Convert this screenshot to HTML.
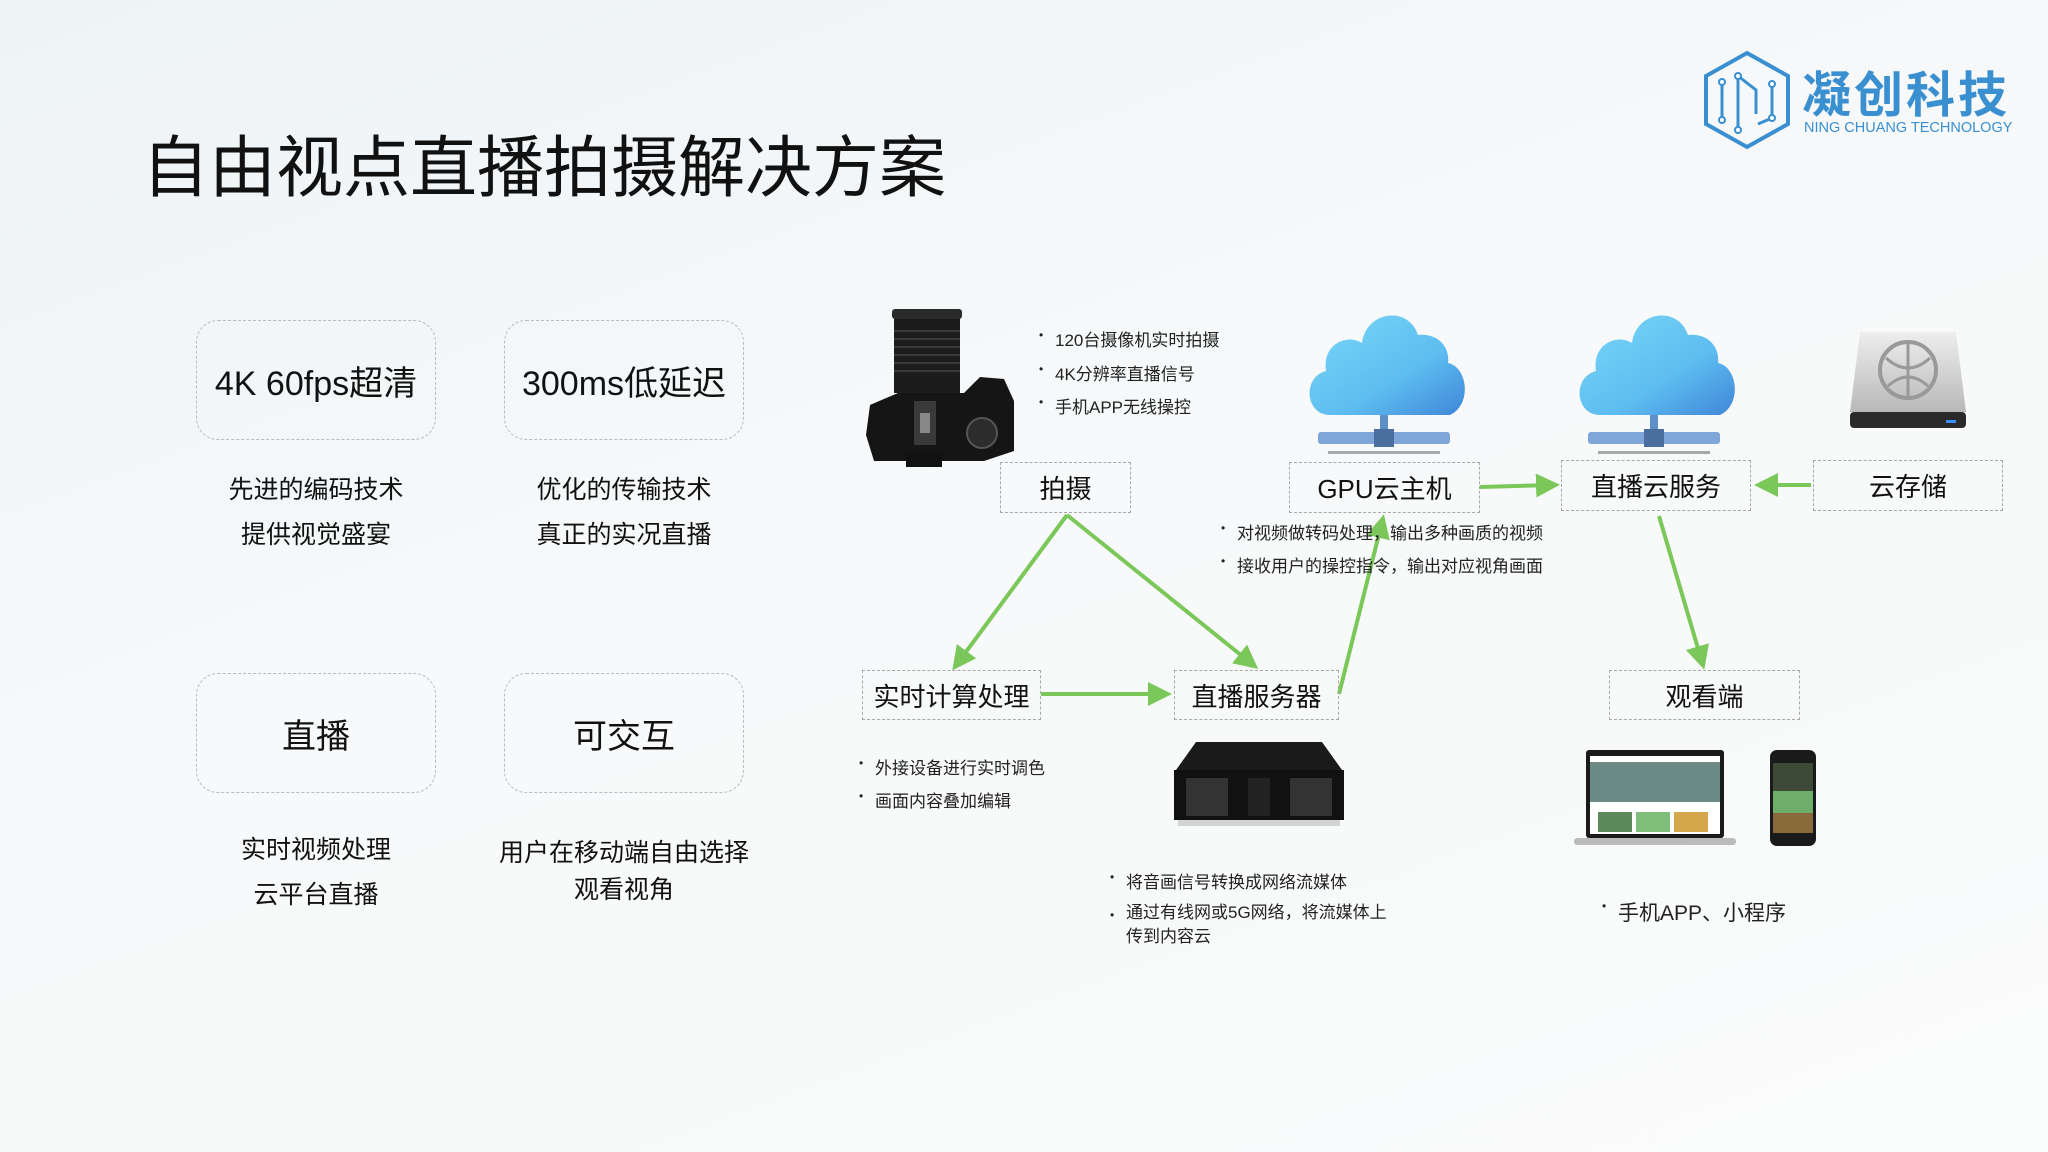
<!DOCTYPE html>
<html><head><meta charset="utf-8"><style>
*{margin:0;padding:0;box-sizing:border-box}
body{width:2048px;height:1152px;overflow:hidden;background:linear-gradient(160deg,#eef3f6 0%,#f7f9fa 45%,#fafbfb 100%);font-family:"Liberation Sans","Noto Sans CJK SC",sans-serif;color:#111;position:relative}
.a{position:absolute;white-space:nowrap}
.card{position:absolute;border:1.5px dashed #b8bcc0;border-radius:22px;display:flex;align-items:center;justify-content:center;font-size:34px;color:#111}
.cap{position:absolute;text-align:center;font-size:25px;line-height:45px;color:#111}
.box{position:absolute;border:1.5px dashed #a8a8a8;display:flex;align-items:center;justify-content:center;font-size:26px;color:#111;background:transparent}
.b{position:absolute;font-size:17px;color:#222;white-space:nowrap}
.b:before{content:"•";position:absolute;left:-16px;font-size:12px;top:2px}
</style></head><body>
<div class="a" style="left:142px;top:114px;font-size:67px;color:#111;letter-spacing:0px">自由视点直播拍摄解决方案</div>

<svg class="a" style="left:1700px;top:50px" width="94" height="100" viewBox="0 0 94 100">
<polygon points="47,3 88,26 88,74 47,97 6,74 6,26" fill="none" stroke="#3a8fd0" stroke-width="4"/>
<path d="M22,32 L22,70 M38,26 L38,80 M38,26 L56,40 L56,64 M72,34 L72,68 L58,74" fill="none" stroke="#3a8fd0" stroke-width="3"/>
<circle cx="22" cy="32" r="3" fill="#fff" stroke="#3a8fd0" stroke-width="2"/><circle cx="38" cy="26" r="3" fill="#fff" stroke="#3a8fd0" stroke-width="2"/><circle cx="22" cy="70" r="3" fill="#fff" stroke="#3a8fd0" stroke-width="2"/><circle cx="38" cy="80" r="3" fill="#fff" stroke="#3a8fd0" stroke-width="2"/><circle cx="72" cy="34" r="3" fill="#fff" stroke="#3a8fd0" stroke-width="2"/><circle cx="72" cy="68" r="3" fill="#fff" stroke="#3a8fd0" stroke-width="2"/>
</svg>
<div class="a" style="left:1802px;top:56px;font-size:49px;font-weight:bold;color:#3a8fd0;letter-spacing:3px">凝创科技</div>
<div class="a" style="left:1804px;top:120px;font-size:14.5px;color:#3a8fd0">NING CHUANG TECHNOLOGY</div>

<div class="card" style="left:196px;top:320px;width:240px;height:120px">4K 60fps超清</div>
<div class="card" style="left:504px;top:320px;width:240px;height:120px">300ms低延迟</div>
<div class="card" style="left:196px;top:673px;width:240px;height:120px">直播</div>
<div class="card" style="left:504px;top:673px;width:240px;height:120px">可交互</div>
<div class="cap" style="left:166px;top:468px;width:300px">先进的编码技术<br>提供视觉盛宴</div>
<div class="cap" style="left:474px;top:468px;width:300px">优化的传输技术<br>真正的实况直播</div>
<div class="cap" style="left:166px;top:828px;width:300px">实时视频处理<br>云平台直播</div>
<div class="cap" style="left:474px;top:835px;width:300px;line-height:37px">用户在移动端自由选择<br>观看视角</div>

<!-- camera -->
<svg class="a" style="left:864px;top:305px" width="156" height="162" viewBox="0 0 156 162">
<rect x="28" y="4" width="70" height="10" rx="3" fill="#2a2a2a"/>
<rect x="30" y="14" width="66" height="74" fill="#1c1c1c"/>
<g stroke="#444" stroke-width="1.5"><line x1="30" y1="26" x2="96" y2="26"/><line x1="30" y1="34" x2="96" y2="34"/><line x1="30" y1="42" x2="96" y2="42"/><line x1="30" y1="50" x2="96" y2="50"/><line x1="30" y1="58" x2="96" y2="58"/><line x1="30" y1="66" x2="96" y2="66"/></g>
<path d="M6,100 L34,88 L100,88 L116,72 L140,74 L150,96 L150,146 L120,156 L10,156 L2,130 Z" fill="#151515"/>
<rect x="50" y="96" width="22" height="44" fill="#3a3a3a"/><rect x="56" y="108" width="10" height="20" fill="#888"/>
<circle cx="118" cy="128" r="15" fill="#2c2c2c" stroke="#555" stroke-width="2"/>
<rect x="42" y="148" width="36" height="14" fill="#111"/>
</svg>
<div class="b" style="left:1055px;top:326px">120台摄像机实时拍摄</div>
<div class="b" style="left:1055px;top:360px">4K分辨率直播信号</div>
<div class="b" style="left:1055px;top:393px">手机APP无线操控</div>

<!-- clouds -->
<svg class="a" style="left:1300px;top:305px" width="172" height="150" viewBox="0 0 172 150">
<defs><linearGradient id="cg" x1="0" y1="0" x2="1" y2="1"><stop offset="0" stop-color="#7ad7f7"/><stop offset="0.6" stop-color="#5ebdf0"/><stop offset="1" stop-color="#3f86d8"/></linearGradient></defs>
<path d="M30,110 C5,110 2,72 26,66 C22,40 46,28 62,38 C66,6 108,0 118,30 C138,28 150,42 148,58 C168,62 172,100 150,110 Z" fill="url(#cg)"/>
<rect x="80" y="110" width="8" height="20" fill="#5f8fc8"/>
<rect x="18" y="127" width="132" height="12" rx="3" fill="#7ea6d8"/>
<rect x="74" y="124" width="20" height="18" fill="#4a6e9e"/>
<rect x="28" y="146" width="112" height="3" fill="#555" opacity=".5"/>
</svg>
<svg class="a" style="left:1570px;top:305px" width="172" height="150" viewBox="0 0 172 150">
<path d="M30,110 C5,110 2,72 26,66 C22,40 46,28 62,38 C66,6 108,0 118,30 C138,28 150,42 148,58 C168,62 172,100 150,110 Z" fill="url(#cg)"/>
<rect x="80" y="110" width="8" height="20" fill="#5f8fc8"/>
<rect x="18" y="127" width="132" height="12" rx="3" fill="#7ea6d8"/>
<rect x="74" y="124" width="20" height="18" fill="#4a6e9e"/>
<rect x="28" y="146" width="112" height="3" fill="#555" opacity=".5"/>
</svg>
<!-- storage -->
<svg class="a" style="left:1846px;top:328px" width="124" height="106" viewBox="0 0 124 106">
<defs><linearGradient id="sg" x1="0" y1="0" x2="0" y2="1"><stop offset="0" stop-color="#eee"/><stop offset="1" stop-color="#b8b8b8"/></linearGradient></defs>
<path d="M14,4 L110,4 L120,84 L4,84 Z" fill="url(#sg)"/>
<rect x="4" y="84" width="116" height="16" rx="4" fill="#2a2a2a"/>
<rect x="100" y="92" width="10" height="3" fill="#3a8fff"/>
<circle cx="62" cy="42" r="28" fill="none" stroke="#999" stroke-width="4"/>
<path d="M40,30 Q62,50 84,30 M42,58 Q62,40 82,58 M62,14 L62,70" fill="none" stroke="#999" stroke-width="3"/>
</svg>

<!-- arrows -->
<svg class="a" style="left:0;top:0" width="2048" height="1152">
<defs><marker id="ar" markerWidth="6" markerHeight="6" refX="4" refY="3" orient="auto" markerUnits="strokeWidth"><path d="M0,0 L6,3 L0,6 Z" fill="#7cc75a"/></marker></defs>
<g stroke="#7cc75a" stroke-width="4" fill="none" marker-end="url(#ar)">
<line x1="1067" y1="515" x2="957" y2="664"/>
<line x1="1067" y1="515" x2="1252" y2="664"/>
<line x1="1041" y1="694" x2="1164" y2="694"/>
<line x1="1339" y1="694" x2="1382" y2="522"/>
<line x1="1480" y1="487" x2="1552" y2="485"/>
<line x1="1811" y1="485" x2="1762" y2="485"/>
<line x1="1659" y1="516" x2="1702" y2="662"/>
</g></svg>

<div class="box" style="left:1000px;top:462px;width:131px;height:51px">拍摄</div>
<div class="box" style="left:1289px;top:462px;width:191px;height:51px">GPU云主机</div>
<div class="box" style="left:1561px;top:460px;width:190px;height:51px">直播云服务</div>
<div class="box" style="left:1813px;top:460px;width:190px;height:51px">云存储</div>
<div class="box" style="left:862px;top:670px;width:179px;height:50px">实时计算处理</div>
<div class="box" style="left:1174px;top:670px;width:165px;height:50px">直播服务器</div>
<div class="box" style="left:1609px;top:670px;width:191px;height:50px">观看端</div>

<div class="b" style="left:1237px;top:519px">对视频做转码处理，输出多种画质的视频</div>
<div class="b" style="left:1237px;top:552px">接收用户的操控指令，输出对应视角画面</div>
<div class="b" style="left:875px;top:754px">外接设备进行实时调色</div>
<div class="b" style="left:875px;top:787px">画面内容叠加编辑</div>
<div class="b" style="left:1126px;top:868px">将音画信号转换成网络流媒体</div>
<div class="b" style="left:1126px;top:901px;line-height:24px">通过有线网或5G网络，将流媒体上<br>传到内容云</div>
<div class="b" style="left:1618px;top:897px;font-size:21px">手机APP、小程序</div>

<!-- server -->
<svg class="a" style="left:1166px;top:740px" width="186" height="86" viewBox="0 0 186 86">
<path d="M30,2 L156,2 L176,30 L10,30 Z" fill="#1a1a1a"/>
<rect x="8" y="30" width="170" height="50" fill="#111"/>
<rect x="20" y="38" width="42" height="38" fill="#333"/><rect x="124" y="38" width="42" height="38" fill="#333"/>
<rect x="82" y="38" width="22" height="38" fill="#222"/>
<rect x="12" y="80" width="162" height="6" fill="#999" opacity=".4"/>
</svg>
<!-- laptop -->
<svg class="a" style="left:1572px;top:748px" width="166" height="100" viewBox="0 0 166 100">
<rect x="14" y="2" width="138" height="88" rx="3" fill="#1a1a1a"/>
<rect x="18" y="8" width="130" height="78" fill="#fff"/>
<rect x="18" y="14" width="130" height="40" fill="#6b8a86"/>
<rect x="26" y="64" width="34" height="20" fill="#5d8a5c"/><rect x="64" y="64" width="34" height="20" fill="#7fbf7a"/><rect x="102" y="64" width="34" height="20" fill="#d4a84a"/>
<rect x="2" y="90" width="162" height="7" rx="3" fill="#bbb"/>
</svg>
<svg class="a" style="left:1768px;top:749px" width="50" height="98" viewBox="0 0 50 98">
<rect x="2" y="1" width="46" height="96" rx="7" fill="#1a1a1a"/>
<rect x="5" y="14" width="40" height="28" fill="#3e4a38"/><rect x="5" y="42" width="40" height="22" fill="#6cae6a"/><rect x="5" y="64" width="40" height="20" fill="#8a6a3a"/>
</svg>
</body></html>
